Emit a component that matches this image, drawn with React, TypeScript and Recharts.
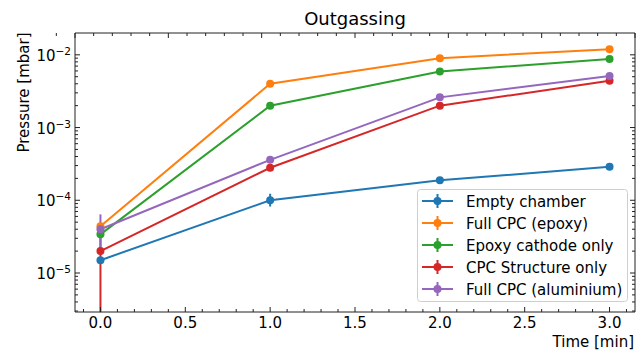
import { LineChart, Line, XAxis, YAxis, ErrorBar, Legend } from "recharts";

// measurement times [min]
const times = [0, 1, 2, 3];

// pressure readings [mbar]
const emptyChamber = [1.5e-5, 1.0e-4, 1.88e-4, 2.88e-4];
const fullCpcEpoxy = [4.4e-5, 4.0e-3, 9.0e-3, 1.19e-2];
const epoxyCathode = [3.4e-5, 2.0e-3, 5.9e-3, 8.75e-3];
const cpcStructure = [2.0e-5, 2.8e-4, 2.0e-3, 4.4e-3];
const fullCpcAlu = [4.0e-5, 3.6e-4, 2.6e-3, 5.1e-3];

// [lower, upper] errors
const emptyChamberErr = [[0, 0], [1.8e-5, 2.3e-5], [0, 0], [0, 0]];
const fullCpcEpoxyErr = [[0, 0], [0, 0], [0, 0], [0, 0]];
const epoxyCathodeErr = [[0, 0], [0, 0], [0, 0], [0, 0]];
const cpcStructureErr = [[1.71e-5, 1.5e-5], [0, 0], [0, 0], [0, 0]];
const fullCpcAluErr = [[2.2e-5, 2.4e-5], [0, 0], [0, 0], [0, 0]];

const seriesNames = [
  "Empty chamber",
  "Full CPC (epoxy)",
  "Epoxy cathode only",
  "CPC Structure only",
  "Full CPC (aluminium)",
];
const seriesColors = ["#1f77b4", "#ff7f0e", "#2ca02c", "#d62728", "#9467bd"];
const seriesValues = [emptyChamber, fullCpcEpoxy, epoxyCathode, cpcStructure, fullCpcAlu];
const seriesErrors = [emptyChamberErr, fullCpcEpoxyErr, epoxyCathodeErr, cpcStructureErr, fullCpcAluErr];

const xMajorTicks = [0, 0.5, 1, 1.5, 2, 2.5, 3];

const X_DOMAIN: [number, number] = [-0.15, 3.15];
const Y_DOMAIN: [number, number] = [2.91e-6, 0.01995];

const FONT = "'DejaVu Sans', sans-serif";
const FRAME = "#222";
const MAJOR_LEN = 5;
const MINOR_LEN = 3;

const xTicks: number[] = [];
for (let k = -1; k <= 31; k++) xTicks.push(k / 10);

const yTicks: number[] = [];
for (let e = -6; e <= -2; e++) {
  for (let m = 1; m <= 9; m++) {
    const v = m * Math.pow(10, e);
    if (v >= Y_DOMAIN[0] && v <= Y_DOMAIN[1]) yTicks.push(v);
  }
}

const isXMajor = (v: number) => xMajorTicks.some((t) => Math.abs(t - v) < 1e-6);
const isYMajor = (v: number) => {
  const l = Math.log10(v);
  return Math.abs(l - Math.round(l)) < 1e-6;
};

const rows = times.map((t, i) => {
  const row: any = { t };
  seriesValues.forEach((vals, s) => {
    row[`s${s}`] = vals[i];
    row[`e${s}`] = seriesErrors[s][i];
  });
  return row;
});

function BottomTick({ x, y, payload }: any) {
  const major = isXMajor(payload.value);
  return (
    <g>
      <line x1={x} x2={x} y1={y} y2={y - (major ? MAJOR_LEN : MINOR_LEN)} stroke={FRAME} strokeWidth={1} />
      {major && (
        <text x={x} y={y + 16} textAnchor="middle" fontSize={15} fontFamily={FONT} fill="#000">
          {payload.value.toFixed(1)}
        </text>
      )}
    </g>
  );
}

function TopTick({ x, y, payload }: any) {
  const major = isXMajor(payload.value);
  return <line x1={x} x2={x} y1={y} y2={y + (major ? MAJOR_LEN : MINOR_LEN)} stroke={FRAME} strokeWidth={1} />;
}

function LeftTick({ x, y, payload }: any) {
  const major = isYMajor(payload.value);
  const exp = Math.round(Math.log10(payload.value));
  return (
    <g>
      <line x1={x} x2={x + (major ? MAJOR_LEN : MINOR_LEN)} y1={y} y2={y} stroke={FRAME} strokeWidth={1} />
      {major && (
        <text x={x - 4} y={y + 6} textAnchor="end" fontSize={15} fontFamily={FONT} fill="#000">
          10
          <tspan dy={-6} fontSize={10.5}>{`\u2212${Math.abs(exp)}`}</tspan>
        </text>
      )}
    </g>
  );
}

function RightTick({ x, y, payload }: any) {
  const major = isYMajor(payload.value);
  return <line x1={x} x2={x - (major ? MAJOR_LEN : MINOR_LEN)} y1={y} y2={y} stroke={FRAME} strokeWidth={1} />;
}

function LegendBox() {
  return (
    <svg width={212} height={114} style={{ display: "block" }}>
      <rect x={0.5} y={0.5} width={210} height={112} rx={3} fill="#fff" fillOpacity={0.8} stroke="#cfcfcf" />
      {seriesNames.map((name, i) => {
        const cy = 12 + i * 22;
        const c = seriesColors[i];
        return (
          <g key={name}>
            <line x1={5} x2={36} y1={cy} y2={cy} stroke={c} strokeWidth={2} />
            <line x1={20.5} x2={20.5} y1={cy - 7} y2={cy + 7} stroke={c} strokeWidth={2} />
            <circle cx={20.5} cy={cy} r={4} fill={c} />
            <text x={49} y={cy + 5.5} fontSize={15} fontFamily={FONT} fill="#000">
              {name}
            </text>
          </g>
        );
      })}
    </svg>
  );
}

export default function App() {
  return (
    <div style={{ position: "absolute", left: 0, top: 0, width: 643, height: 352, background: "#fff" }}>
      <LineChart width={643} height={352} data={rows} margin={{ top: 32, right: 7, bottom: 0, left: 0 }}>
        <XAxis
          dataKey="t"
          type="number"
          domain={X_DOMAIN}
          allowDataOverflow
          ticks={xTicks}
          interval={0}
          tick={<BottomTick />}
          tickLine={false}
          tickSize={0}
          tickMargin={0}
          axisLine={{ stroke: FRAME, strokeWidth: 1 }}
          height={40}
        />
        <XAxis
          xAxisId="top"
          orientation="top"
          type="number"
          domain={X_DOMAIN}
          allowDataOverflow
          ticks={xTicks}
          interval={0}
          tick={<TopTick />}
          tickLine={false}
          tickSize={0}
          tickMargin={0}
          axisLine={{ stroke: FRAME, strokeWidth: 1 }}
          height={1}
        />
        <YAxis
          type="number"
          scale="log"
          domain={Y_DOMAIN}
          allowDataOverflow
          ticks={yTicks}
          interval={0}
          tick={<LeftTick />}
          tickLine={false}
          tickSize={0}
          tickMargin={0}
          axisLine={{ stroke: FRAME, strokeWidth: 1 }}
          width={75}
        />
        <YAxis
          yAxisId="right"
          orientation="right"
          type="number"
          scale="log"
          domain={Y_DOMAIN}
          allowDataOverflow
          ticks={yTicks}
          interval={0}
          tick={<RightTick />}
          tickLine={false}
          tickSize={0}
          tickMargin={0}
          axisLine={{ stroke: FRAME, strokeWidth: 1 }}
          width={1}
        />
        <Legend
          layout="horizontal"
          verticalAlign="middle"
          align="center"
          content={<LegendBox />}
          wrapperStyle={{ position: "absolute", left: 417, top: 189, width: 212, height: 114 }}
        />
        {seriesNames.map((name, i) => (
          <Line
            key={name}
            name={name}
            dataKey={`s${i}`}
            type="linear"
            stroke={seriesColors[i]}
            strokeWidth={2}
            dot={{ r: 4, fill: seriesColors[i], stroke: seriesColors[i], strokeWidth: 0 }}
            activeDot={false}
            isAnimationActive={false}
          >
            <ErrorBar
              dataKey={`e${i}`}
              direction="y"
              width={0}
              stroke={seriesColors[i]}
              strokeWidth={2}
              isAnimationActive={false}
            />
          </Line>
        ))}
      </LineChart>
      <svg width={643} height={352} style={{ position: "absolute", left: 0, top: 0, pointerEvents: "none" }}>
        <text x={355} y={25} textAnchor="middle" fontSize={18} fontFamily={FONT} fill="#000">
          Outgassing
        </text>
        <text
          transform="translate(28.5,92.5) rotate(-90)"
          textAnchor="middle"
          fontSize={15}
          fontFamily={FONT}
          fill="#000"
        >
          Pressure [mbar]
        </text>
        <text x={634} y={347} textAnchor="end" fontSize={15} fontFamily={FONT} fill="#000">
          Time [min]
        </text>
      </svg>
    </div>
  );
}
